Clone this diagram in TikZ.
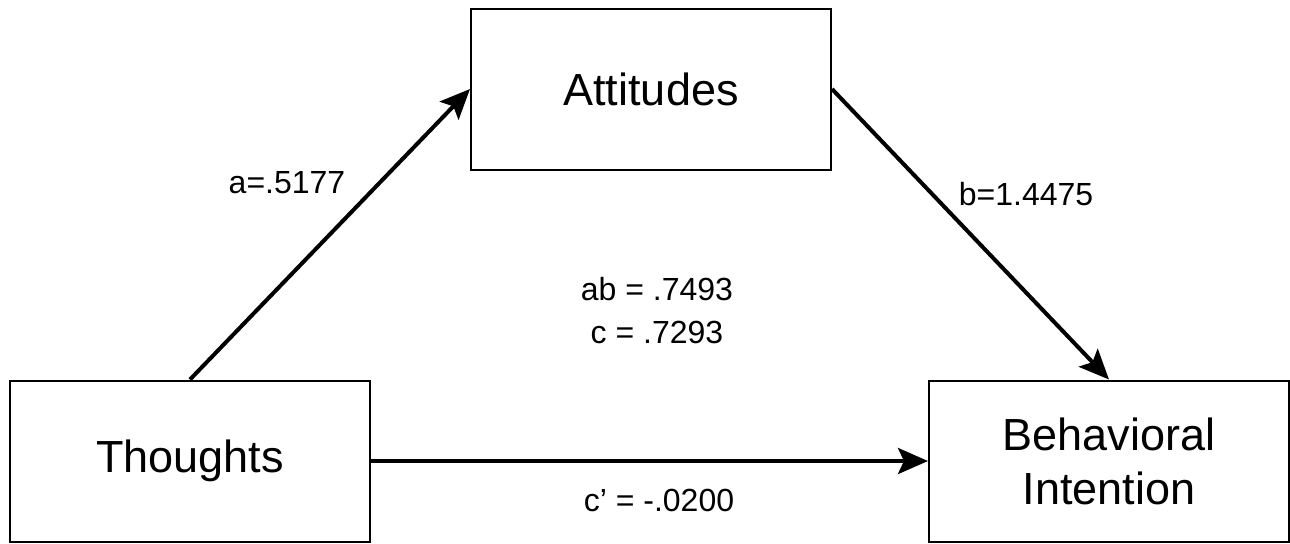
\documentclass[tikz,border=0pt]{standalone}
\usepackage{fontspec}
\setmainfont{Liberation Sans}
\usetikzlibrary{arrows.meta}
\begin{document}
\begin{tikzpicture}[x=0.5pt,y=-0.5pt]
        \tikzstyle{factor}=[rectangle,draw=black,line width=1pt,minimum width=180pt,minimum height=80.5pt,align=center,font=\fontsize{22.5}{27}\selectfont]
        \tikzstyle{edge}=[draw,line width=2pt,-{Stealth[length=15pt,width=13pt,inset=3pt]}]
        \tikzstyle{coef}=[align=center,font=\fontsize{16}{21.5}\selectfont]
        \useasboundingbox (0,0) rectangle (1290,543);
        \begin{scope}
            \node [factor] (thoughts) at (190,461) {Thoughts};
            \node [factor] (attitudes) at (651,89) {Attitudes};
            \node [factor] (intention) at (1109,461) {Behavioral\\Intention};
            \draw[edge] (thoughts.north) -- (attitudes.west);
            \draw[edge] (attitudes.east) -- (intention.north);
            \draw[edge] (thoughts.east) -- (intention.west);
            \node [coef] (apath) at (287,183) {a=.5177};
            \node [coef] (bpath) at (1026,194) {b=1.4475};
            \node [coef] (effects) at (657,311) {ab = .7493\\c = .7293};
            \node [coef] (cpath) at (659,500) {c’ = -.0200};
        \end{scope}
\end{tikzpicture}
\end{document}
